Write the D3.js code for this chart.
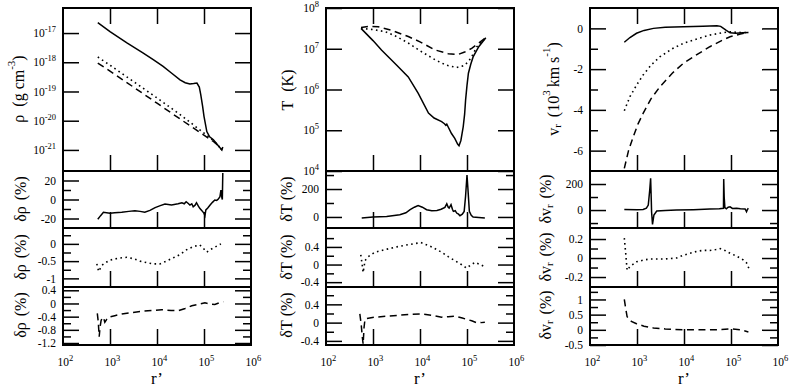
<!DOCTYPE html>
<html>
<head>
<meta charset="utf-8">
<script src="https://cdn.jsdelivr.net/npm/d3@7"></script>
<style>
  body { margin: 0; background: #fff; }
  svg, text, tspan { font-family: "Liberation Serif", "DejaVu Serif", serif; }
  text { fill: #000; }
</style>
</head>
<body>
<svg id="fig" width="789" height="389" font-family="Liberation Serif"></svg>
<script>
// every point is [log10(r'), value]; log panels keep the exponent of the value

// top row: rho (log10 g cm^-3), T (log10 K), v_r (10^3 km/s)
const rhoSolid = [[2.74,-16.64],[3.0,-16.95],[3.36,-17.34],[3.7,-17.68],[3.92,-17.91],[4.13,-18.14],[4.3,-18.36],[4.49,-18.60],[4.6,-18.70],[4.7,-18.74],[4.78,-18.73],[4.85,-18.71],[4.9,-18.85],[4.93,-19.1],[4.97,-19.5],[5.0,-19.85],[5.06,-20.37],[5.12,-20.55],[5.2,-20.65],[5.3,-20.85],[5.38,-21.0],[5.40,-20.9]];
const rhoDotted = [[2.74,-17.82],[3.0,-18.1],[3.5,-18.66],[4.0,-19.22],[4.5,-19.8],[4.9,-20.3],[5.09,-20.54],[5.2,-20.68],[5.3,-20.85],[5.38,-21.0]];
const rhoDashed = [[2.74,-18.03],[3.0,-18.3],[3.5,-18.85],[4.0,-19.4],[4.5,-19.95],[4.9,-20.39],[5.2,-20.71],[5.3,-20.85],[5.38,-21.0]];

const tSolid = [[2.745,7.50],[3.0,7.2],[3.18,6.97],[3.5,6.6],[3.75,6.31],[3.96,5.91],[4.18,5.42],[4.3,5.3],[4.46,5.21],[4.52,5.16],[4.55,5.12],[4.57,5.15],[4.6,5.08],[4.67,4.92],[4.74,4.8],[4.8,4.66],[4.83,4.62],[4.87,4.75],[4.92,5.09],[4.95,5.4],[4.97,5.74],[5.0,6.1],[5.03,6.40],[5.08,6.62],[5.13,6.80],[5.25,7.05],[5.40,7.27]];
const tDotted = [[2.745,7.50],[3.0,7.47],[3.26,7.42],[3.5,7.3],[3.75,7.14],[4.0,6.95],[4.32,6.73],[4.55,6.6],[4.78,6.54],[4.92,6.58],[5.03,6.68],[5.12,6.85],[5.21,7.05],[5.40,7.27]];
const tDashed = [[2.745,7.52],[2.9,7.55],[3.11,7.54],[3.4,7.45],[3.75,7.30],[4.0,7.17],[4.32,6.97],[4.6,6.88],[4.81,6.86],[4.95,6.92],[5.1,7.01],[5.25,7.14],[5.40,7.27]];

const vSolid = [[2.73,-0.68],[2.85,-0.45],[2.99,-0.24],[3.15,-0.1],[3.35,0.0],[3.6,0.05],[3.99,0.08],[4.4,0.11],[4.70,0.13],[4.78,0.1],[4.84,0.0],[4.9,-0.1],[4.98,-0.22],[5.1,-0.24],[5.25,-0.22],[5.37,-0.2]];
const vDotted = [[2.73,-4.04],[2.85,-3.35],[3.0,-2.75],[3.13,-2.29],[3.3,-1.8],[3.49,-1.39],[3.75,-1.0],[3.99,-0.73],[4.3,-0.5],[4.55,-0.33],[4.8,-0.22],[4.98,-0.17],[5.2,-0.2],[5.37,-0.2]];
const vDashed = [[2.73,-6.87],[2.82,-6.0],[2.92,-5.32],[3.02,-4.7],[3.13,-4.17],[3.3,-3.45],[3.49,-2.86],[3.75,-2.2],[3.99,-1.71],[4.3,-1.25],[4.55,-0.90],[4.8,-0.6],[4.98,-0.41],[5.2,-0.28],[5.37,-0.2]];

// relative differences (%)
const dRhoSolid = [[2.74,-20.8],[2.8,-17],[2.86,-13.5],[3.0,-14.5],[3.1,-14],[3.25,-13.5],[3.4,-12.5],[3.53,-11.8],[3.64,-12.5],[3.74,-13.5],[3.85,-11.5],[3.96,-8.6],[4.07,-6.5],[4.17,-4.7],[4.31,-5.8],[4.45,-4.5],[4.53,-3.4],[4.58,-4.5],[4.62,-2.3],[4.66,-4],[4.70,-5.8],[4.74,-4.5],[4.77,-7.6],[4.81,-6],[4.84,-3.4],[4.88,-7],[4.91,-9.3],[4.96,-12],[5.0,-14.5],[5.02,-17],[5.04,-11],[5.08,-9],[5.13,-5.8],[5.18,-3],[5.23,-0.5],[5.27,-1],[5.30,0.2],[5.34,3],[5.36,10],[5.38,2],[5.39,0],[5.40,28]];
const dRhoDotted = [[2.72,-0.58],[2.74,-0.7],[2.76,-0.8],[2.79,-0.72],[2.83,-0.62],[2.9,-0.55],[3.0,-0.47],[3.2,-0.41],[3.36,-0.39],[3.5,-0.43],[3.64,-0.5],[3.8,-0.55],[3.92,-0.58],[4.06,-0.58],[4.2,-0.5],[4.35,-0.4],[4.49,-0.31],[4.63,-0.17],[4.77,-0.08],[4.91,-0.03],[4.98,-0.12],[5.06,-0.24],[5.13,-0.17],[5.2,-0.12],[5.36,0.0]];
const dRhoDashed = [[2.73,-0.3],[2.75,-0.55],[2.77,-1.01],[2.79,-0.7],[2.81,-0.52],[2.83,-0.45],[2.86,-0.42],[2.89,-0.57],[2.93,-0.48],[2.96,-0.42],[3.1,-0.37],[3.25,-0.32],[3.45,-0.28],[3.67,-0.24],[3.9,-0.21],[4.1,-0.19],[4.3,-0.21],[4.45,-0.22],[4.6,-0.15],[4.74,-0.07],[4.9,-0.02],[5.02,0.02],[5.12,-0.02],[5.23,-0.03],[5.32,0.02],[5.41,0.05]];

const dTSolid = [[2.76,-7],[3.0,0],[3.29,4],[3.57,16],[3.7,30],[3.79,52],[3.88,70],[3.96,81],[4.05,70],[4.14,52],[4.25,45],[4.36,47],[4.45,55],[4.53,69],[4.57,95],[4.6,70],[4.62,64],[4.66,88],[4.69,55],[4.71,40],[4.75,45],[4.78,28],[4.82,20],[4.85,9],[4.9,20],[4.94,40],[4.97,150],[5.0,300],[5.02,200],[5.05,40],[5.09,12],[5.13,0],[5.25,-3],[5.38,-7]];
const dTDotted = [[2.74,0.22],[2.77,0.0],[2.79,-0.18],[2.81,-0.05],[2.83,0.09],[2.9,0.18],[3.04,0.28],[3.3,0.35],[3.54,0.41],[3.8,0.46],[4.02,0.5],[4.25,0.4],[4.46,0.28],[4.6,0.18],[4.74,0.09],[4.88,0.0],[4.99,-0.08],[5.08,-0.01],[5.17,0.05],[5.28,0.0],[5.38,-0.05]];
const dTDashed = [[2.72,0.19],[2.75,-0.05],[2.77,-0.29],[2.79,-0.47],[2.81,-0.1],[2.83,0.08],[3.04,0.12],[3.3,0.14],[3.54,0.16],[3.8,0.18],[4.04,0.19],[4.25,0.16],[4.46,0.12],[4.6,0.13],[4.74,0.14],[4.9,0.1],[5.1,0.04],[5.2,0.0],[5.3,0.0],[5.38,0.01]];

const dVSolid = [[2.73,5],[3.0,3],[3.13,5],[3.2,15],[3.24,38],[3.27,150],[3.29,244],[3.305,60],[3.31,-13],[3.33,-110],[3.36,-38],[3.42,-8],[3.6,-3],[3.84,0],[4.2,3],[4.55,8],[4.75,10],[4.84,13],[4.845,238],[4.855,100],[4.87,18],[4.9,10],[4.94,22],[4.98,25],[5.03,12],[5.12,13],[5.2,10],[5.30,8],[5.33,-13],[5.35,5],[5.37,13]];
const dVDotted = [[2.73,0.21],[2.76,0.05],[2.79,-0.13],[2.85,-0.09],[2.99,-0.04],[3.15,-0.02],[3.28,-0.01],[3.6,-0.01],[3.84,0.0],[3.99,0.03],[4.13,0.05],[4.27,0.07],[4.4,0.08],[4.55,0.08],[4.68,0.09],[4.77,0.10],[4.87,0.08],[4.98,0.05],[5.12,0.02],[5.26,-0.02],[5.33,-0.05],[5.39,-0.12]];
const dVDashed = [[2.73,1.0],[2.76,0.7],[2.79,0.43],[2.88,0.28],[2.99,0.2],[3.15,0.12],[3.35,0.06],[3.6,0.03],[3.99,0.0],[4.3,0.0],[4.55,0.0],[4.8,0.01],[5.01,0.03],[5.2,0.0],[5.37,-0.07]];

// axis ticks
const xTickExp = [2, 3, 4, 5, 6];
const rhoTickExp = [-21, -20, -19, -18, -17];
const tTickExp = [4, 5, 6, 7, 8];

const FONT = "Liberation Serif";
const svg = d3.select("#fig");
const colX = [63, 326, 590];
const colW = 188;
const rowY = [[8, 171], [171, 228], [228, 287], [287, 345]];

const xs = colX.map(x0 => d3.scaleLog().domain([1e2, 1e6]).range([x0, x0 + colW]));

const dash = { solid: null, dotted: "1.6,3.4", dashed: "7,4.5" };

const panels = [
  { col: 0, row: 0, log: true, domain: [1.9e-22, 7.2e-17], major: rhoTickExp.map(e => 10 ** e), minor: [],
    series: [[rhoSolid, "solid"], [rhoDotted, "dotted"], [rhoDashed, "dashed"]] },
  { col: 1, row: 0, log: true, domain: [1e4, 1e8], major: tTickExp.map(e => 10 ** e), minor: [],
    series: [[tSolid, "solid"], [tDotted, "dotted"], [tDashed, "dashed"]] },
  { col: 2, row: 0, domain: [-7, 1], major: [-6, -4, -2, 0], minor: [-5, -3, -1],
    series: [[vSolid, "solid"], [vDotted, "dotted"], [vDashed, "dashed"]] },

  { col: 0, row: 1, domain: [-30, 30], major: [-20, 0, 20], minor: [-10, 10], series: [[dRhoSolid, "solid"]] },
  { col: 0, row: 2, domain: [-1.25, 0.46], major: [-1, -0.5, 0], minor: [-0.75, -0.25, 0.25], series: [[dRhoDotted, "dotted"]] },
  { col: 0, row: 3, domain: [-1.26, 0.5], major: [-1.2, -0.8, -0.4, 0, 0.4], minor: [-1.0, -0.6, -0.2, 0.2], series: [[dRhoDashed, "dashed"]] },

  { col: 1, row: 1, domain: [-79, 329], major: [0, 200], minor: [100, 300], series: [[dTSolid, "solid"]] },
  { col: 1, row: 2, domain: [-0.51, 0.83], major: [-0.4, 0, 0.4], minor: [-0.2, 0.2, 0.6], series: [[dTDotted, "dotted"]] },
  { col: 1, row: 3, domain: [-0.49, 0.78], major: [-0.4, 0, 0.4], minor: [-0.2, 0.2, 0.6], series: [[dTDashed, "dashed"]] },

  { col: 2, row: 1, domain: [-138, 300], major: [0, 200], minor: [-100, 100], series: [[dVSolid, "solid"]] },
  { col: 2, row: 2, domain: [-0.305, 0.316], major: [-0.2, 0, 0.2], minor: [-0.1, 0.1], series: [[dVDotted, "dotted"]] },
  { col: 2, row: 3, domain: [-0.5, 1.41], major: [-0.5, 0, 0.5, 1], minor: [-0.25, 0.25, 0.75, 1.25], series: [[dVDashed, "dashed"]] }
];

const MAJ = 16, MIN = 8;

function cleanAxis(g) {
  g.attr("font-family", FONT).attr("font-size", 11.5);
  g.select(".domain").remove();
  g.selectAll("line").attr("stroke-width", 1.5);
  g.selectAll("text").attr("font-size", 11.5).attr("font-family", FONT);
}

function powLabel(sel) {
  // tick text becomes 10 with a superscript exponent
  sel.each(function (d) {
    const t = d3.select(this).text("");
    t.append("tspan").text("10");
    t.append("tspan").attr("dy", -5).attr("font-size", 8.5).text(Math.round(Math.log10(d)));
  });
}

panels.forEach((p, i) => {
  const x = xs[p.col];
  const x0 = colX[p.col], x1 = x0 + colW;
  const [top, bot] = rowY[p.row];
  const y = (p.log ? d3.scaleLog() : d3.scaleLinear()).domain(p.domain).range([bot, top]);
  const g = svg.append("g");

  g.append("clipPath").attr("id", "clip" + i)
    .append("rect").attr("x", x0).attr("y", top).attr("width", colW).attr("height", bot - top);

  const line = d3.line()
    .x(d => x(10 ** d[0]))
    .y(d => y(p.log ? 10 ** d[1] : d[1]));

  p.series.forEach(([data, style]) => {
    g.append("path")
      .attr("clip-path", `url(#clip${i})`)
      .attr("d", line(data))
      .attr("fill", "none")
      .attr("stroke", "#000")
      .attr("stroke-width", style === "dotted" ? 1.6 : 1.5)
      .attr("stroke-dasharray", dash[style]);
  });

  // left: major ticks with labels, then minor ticks
  const left = g.append("g").attr("transform", `translate(${x0},0)`)
    .call(d3.axisLeft(y).tickValues(p.major).tickSize(-MAJ).tickPadding(7)
      .tickFormat(p.log ? (d => d) : (d => String(d))))
    .call(cleanAxis);
  if (p.log) left.selectAll(".tick text").call(powLabel);
  if (p.minor.length) {
    g.append("g").attr("transform", `translate(${x0},0)`)
      .call(d3.axisLeft(y).tickValues(p.minor).tickSize(-MIN).tickFormat(""))
      .call(cleanAxis);
  }
  // right mirrored ticks
  g.append("g").attr("transform", `translate(${x1},0)`)
    .call(d3.axisRight(y).tickValues(p.major).tickSize(-MAJ).tickFormat(""))
    .call(cleanAxis);
  if (p.minor.length) {
    g.append("g").attr("transform", `translate(${x1},0)`)
      .call(d3.axisRight(y).tickValues(p.minor).tickSize(-MIN).tickFormat(""))
      .call(cleanAxis);
  }

  // x ticks on the bottom edge, and on the top edge of the main panels
  g.append("g").attr("transform", `translate(0,${bot})`)
    .call(d3.axisBottom(x).tickValues([1e3, 1e4, 1e5]).tickSize(-MAJ).tickFormat(""))
    .call(cleanAxis);
  if (p.row === 0) {
    g.append("g").attr("transform", `translate(0,${top})`)
      .call(d3.axisTop(x).tickValues([1e3, 1e4, 1e5]).tickSize(-MAJ).tickFormat(""))
      .call(cleanAxis);
  }

  // x labels under the last row
  if (p.row === 3) {
    const lab = g.append("g").attr("transform", `translate(0,${bot})`)
      .call(d3.axisBottom(x).tickValues(xTickExp.map(e => 10 ** e)).tickSize(0).tickFormat(""))
      .call(cleanAxis);
    lab.selectAll(".tick line").remove();
    lab.selectAll(".tick").each(function (d) {
      const t = d3.select(this).append("text")
        .attr("x", -6).attr("y", 21).attr("font-size", 11.5).attr("font-family", FONT)
        .attr("text-anchor", "start");
      t.append("tspan").text("10");
      t.append("tspan").attr("dy", -5).attr("font-size", 8.5).text(Math.round(Math.log10(d)));
    });
    svg.append("text")
      .attr("x", (x0 + x1) / 2).attr("y", 384)
      .attr("text-anchor", "middle").attr("font-size", 17).attr("font-family", FONT)
      .text("r\u2019");
  }

  g.append("rect")
    .attr("x", x0).attr("y", top).attr("width", colW).attr("height", bot - top)
    .attr("fill", "none").attr("stroke", "#000").attr("stroke-width", 2);
});

// rotated axis titles; parts are [text, dy, size, dx]
function yTitle(cx, cy, parts) {
  const t = svg.append("text")
    .attr("transform", `translate(${cx},${cy}) rotate(-90)`)
    .attr("text-anchor", "middle")
    .attr("dominant-baseline", "central")
    .attr("font-family", FONT)
    .attr("font-size", 16);
  parts.forEach(([s, dy, fs, dx]) => {
    const sp = t.append("tspan").text(s);
    if (dy) sp.attr("dy", dy);
    if (fs) sp.attr("font-size", fs);
    if (dx) sp.attr("dx", dx);
  });
}

yTitle(18, 89, [["\u03c1", 0, 0, 0], ["(g cm", 0, 0, 8], ["-3", -7, 11, 0], [")", 7, 0, 0]]);
yTitle(287, 90, [["T", 0, 0, 0], ["(K)", 0, 0, 9]]);
yTitle(553, 89, [["v", 0, 0, 0], ["r", 4, 11, 0], ["(10", -4, 0, 7], ["3", -7, 11, 0], ["km s", 7, 0, 3], ["-1", -7, 11, 0], [")", 7, 0, 0]]);

[199, 257, 315].forEach(cy => {
  yTitle(20, cy, [["\u03b4\u03c1", 0, 0, 0], ["(%)", 0, 0, 6]]);
  yTitle(286, cy, [["\u03b4T", 0, 0, 0], ["(%)", 0, 0, 4]]);
  yTitle(545, cy, [["\u03b4v", 0, 0, 0], ["r", 4, 11, 0], ["(%)", -4, 0, 6]]);
});
</script>
</body>
</html>
